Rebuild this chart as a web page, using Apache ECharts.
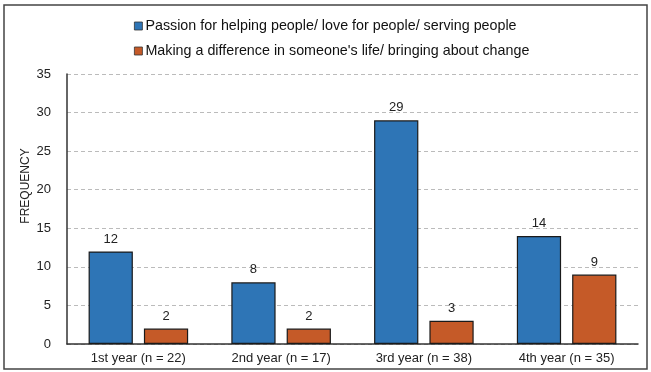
<!DOCTYPE html>
<html>
<head>
<meta charset="utf-8">
<script src="https://cdn.jsdelivr.net/npm/echarts@6/dist/echarts.min.js"></script>
<style>
  html, body { margin: 0; padding: 0; background: #fff; }
  #chart { width: 651px; height: 372px; }
</style>
</head>
<body>
<div id="chart"></div>
<script>
// categories and values
var categories = ["1st year (n = 22)", "2nd year (n = 17)", "3rd year (n = 38)", "4th year (n = 35)"];
var passionVals = [12, 8, 29, 14];
var changeVals = [2, 2, 3, 9];
var seriesNames = [
  "Passion for helping people/ love for people/ serving people",
  "Making a difference in someone's life/ bringing about change"
];

var chart = echarts.init(document.getElementById("chart"));

var labelStyle = {
  show: true,
  position: "top",
  distance: 6,
  color: "#222",
  fontSize: 13,
  fontFamily: "Liberation Sans, Arial"
};

var option = {
  animation: false,
  textStyle: { fontFamily: "Liberation Sans, Arial" },
  graphic: [
    {
      type: "rect",
      shape: { x: 4, y: 5, width: 643, height: 364 },
      style: { fill: "none", stroke: "#444", lineWidth: 1.5 }
    },
    {
      type: "text",
      x: 26,
      y: 186,
      rotation: Math.PI / 2,
      style: {
        text: "FREQUENCY",
        fill: "#222",
        fontSize: 12,
        fontFamily: "Liberation Sans, Arial",
        align: "center",
        verticalAlign: "middle"
      }
    }
  ],
  legend: {
    orient: "vertical",
    left: 129,
    top: 14,
    itemWidth: 8,
    itemHeight: 8,
    itemGap: 11,
    icon: "rect",
    itemStyle: { borderColor: "#333", borderWidth: 0.8 },
    textStyle: { color: "#111", fontSize: 14.3, padding: [0, 0, 0, -2] },
    data: seriesNames
  },
  grid: { left: 67, right: 13, top: 74, bottom: 28 },
  xAxis: {
    type: "category",
    data: categories,
    axisLine: { lineStyle: { color: "#333", width: 1.5 } },
    axisTick: { show: false },
    axisLabel: { color: "#222", fontSize: 13, margin: 8 }
  },
  yAxis: {
    type: "value",
    min: 0,
    max: 35,
    interval: 5,
    axisLine: { show: true, lineStyle: { color: "#333", width: 1.5 } },
    axisTick: { show: false },
    axisLabel: { color: "#222", fontSize: 13, margin: 16 },
    splitLine: { lineStyle: { color: "#bbb", type: [4, 3] } }
  },
  series: [
    {
      name: seriesNames[0],
      type: "bar",
      data: passionVals,
      barWidth: "31%",
      barGap: "25%",
      itemStyle: { color: "#2E75B6", borderColor: "#1a1a1a", borderWidth: 1.2 },
      label: labelStyle
    },
    {
      name: seriesNames[1],
      type: "bar",
      data: changeVals,
      barWidth: "31%",
      itemStyle: { color: "#C55A28", borderColor: "#1a1a1a", borderWidth: 1.2 },
      label: labelStyle
    }
  ]
};

chart.setOption(option);
</script>
</body>
</html>
